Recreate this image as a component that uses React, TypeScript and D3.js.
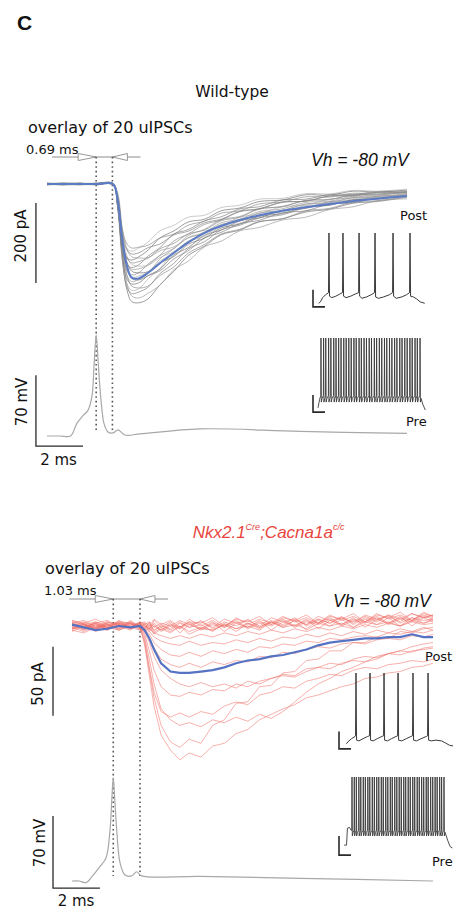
import React from "react";
import * as d3 from "d3";

type Pt = [number, number];

// ================= Wild-type panel (top) =================
const wtTime = [0, 0.7, 1.4, 2.1, 2.8, 3.0, 3.2, 3.4, 3.6, 3.9, 4.3, 4.8, 5.4, 6.0, 6.7, 7.4, 8.2, 9.0, 10.0, 11.0, 12.0, 13.0, 14.0, 15.3];
const wtTraces: number[][] = [
  [2, -1, 1, -2, 0, -50, -185, -265, -294, -297, -287, -252, -218, -179, -155, -127, -115, -95, -87, -70, -63, -48, -44, -33],
  [-1, 2, 0, 1, -2, -40, -170, -250, -280, -285, -273, -253, -214, -193, -157, -143, -117, -109, -90, -83, -64, -57, -42, -37],
  [0, -2, 2, -1, 1, -60, -190, -258, -274, -270, -258, -224, -198, -162, -144, -115, -103, -85, -77, -59, -53, -40, -37, -27],
  [1, 1, -2, 2, -1, -45, -180, -250, -266, -262, -237, -211, -169, -148, -118, -105, -83, -75, -57, -53, -38, -35, -25, -23],
  [-2, 0, 1, -1, 2, -35, -150, -228, -255, -260, -255, -229, -207, -173, -151, -125, -113, -94, -87, -67, -61, -45, -42, -31],
  [2, -2, 0, 1, 0, -55, -175, -238, -250, -247, -229, -213, -177, -159, -128, -115, -92, -85, -66, -61, -44, -42, -31, -28],
  [0, 1, -1, -2, 1, -48, -168, -230, -244, -238, -223, -187, -161, -129, -113, -89, -81, -62, -57, -41, -39, -27, -27, -19],
  [-1, -1, 2, 0, -1, -30, -140, -212, -236, -240, -229, -217, -187, -167, -135, -121, -99, -91, -72, -67, -50, -47, -35, -31],
  [1, -2, -1, 2, 0, -42, -155, -218, -233, -230, -220, -193, -171, -143, -128, -103, -93, -73, -66, -50, -47, -34, -33, -25],
  [-2, 2, 1, 0, -1, -52, -165, -216, -227, -222, -200, -178, -142, -125, -101, -90, -69, -63, -46, -43, -30, -29, -21, -20],
  [0, 0, -2, 1, 2, -28, -128, -195, -218, -222, -219, -197, -181, -151, -135, -110, -100, -81, -74, -57, -53, -39, -38, -29],
  [2, 1, 0, -1, -2, -38, -142, -198, -213, -212, -203, -179, -161, -134, -121, -97, -88, -69, -62, -46, -43, -31, -31, -24],
  [-1, 0, 2, -2, 1, -50, -160, -202, -209, -202, -180, -159, -125, -114, -92, -82, -62, -57, -40, -38, -26, -26, -19, -18],
  [1, -1, -2, 0, 2, -25, -118, -180, -201, -205, -203, -184, -169, -144, -131, -107, -98, -78, -70, -54, -51, -37, -36, -28],
  [0, 2, 1, -1, -1, -40, -140, -186, -197, -194, -185, -162, -148, -125, -115, -92, -83, -63, -56, -41, -39, -27, -28, -21],
  [-2, -1, 0, 2, 1, -55, -150, -185, -190, -182, -165, -135, -117, -95, -88, -67, -60, -44, -40, -27, -28, -18, -20, -15],
  [2, 0, -1, 1, -2, -22, -110, -163, -182, -185, -184, -167, -157, -135, -123, -101, -92, -73, -66, -50, -47, -34, -34, -27],
  [-1, 1, 2, -1, 0, -35, -125, -165, -175, -172, -159, -150, -127, -118, -97, -88, -68, -62, -45, -43, -30, -30, -22, -22],
  [0, -2, 1, 2, -1, -48, -135, -162, -168, -160, -145, -117, -103, -83, -78, -59, -53, -38, -36, -24, -25, -16, -18, -13],
  [1, 2, -1, 0, 1, -30, -115, -150, -160, -158, -153, -135, -125, -103, -93, -73, -67, -50, -45, -32, -33, -23, -25, -19],
];
const wtMean = [0, 0, 0, 0, 0, -40, -140, -205, -234, -236, -222, -198, -172, -146, -122, -105, -90, -79, -67, -58, -50, -43, -37, -30];
const wtApTime = [0, 0.55, 1.0, 1.27, 1.53, 1.74, 1.91, 2.0, 2.09, 2.17, 2.25, 2.34, 2.42, 2.59, 2.8, 3.02, 3.31, 3.95, 6.5, 10.75, 15.3];
const wtApVm = [-65, -65, -65, -52.5, -45, -39.7, -26, 5, 34.6, 10, -17.7, -40, -52.5, -61, -62, -59, -64, -63, -58, -60.5, -62.5];
const wtMarkers = [2.09, 2.78];
const wtPostTrace: Pt[] = [
  [50, -69], [65, -67], [85, -61], [110, -57], [136, -54], [140, 30], [145, -59], [165, -61], [200, -59], [235, -56],
  [259, -54], [263, 30], [268, -59], [290, -61], [330, -59], [370, -56], [400, -54], [404, 30], [409, -59], [430, -62],
  [470, -60], [510, -57], [540, -54], [544, 30], [549, -60], [575, -62], [620, -60], [670, -57], [698, -54], [702, 30],
  [707, -59], [730, -62], [780, -60], [820, -57], [847, -54], [851, 30], [856, -59], [880, -60], [910, -63], [940, -67], [980, -69],
];
const wtPreSpikes = [70, 93, 112, 137, 157, 182, 202, 225, 246, 270, 291, 314, 335, 359, 379, 404, 424, 448, 469, 493,
  513, 538, 558, 582, 603, 627, 647, 671, 692, 716, 736, 761, 781, 805, 826, 850, 870, 895, 915, 939];
const wtPreStart: Pt[] = [[44, -67], [52, -60], [62, -53]];
const wtPreEnd: Pt[] = [[950, -55], [963, -62], [985, -70]];
const wtPreLevels = [-50, 30, -59, -54]; // pre-spike, peak, trough, recovery (mV)

// ================= Nkx2.1Cre;Cacna1a c/c panel (bottom) =================
const koTime = [0, 0.5, 1.0, 1.5, 2.0, 2.5, 2.9, 3.1, 3.3, 3.5, 3.8, 4.2, 4.6, 5.0, 5.5, 6.0, 6.5, 7.0, 7.5, 8.0, 8.5, 9.0,
  9.5, 10.0, 10.5, 11.0, 11.5, 12.0, 12.5, 13.0, 13.5, 14.0, 14.5, 15.0, 15.4];
const koTraces: number[][] = [
  [2, -3, 1, -2, 3, -1, 0, -14, -36, -58, -79, -90, -97, -92, -95, -87, -85, -78, -75, -68, -64, -60, -57, -52, -50, -47, -44, -42, -38, -37, -34, -33, -30, -29, -27],
  [0, 2, -2, 1, -3, 2, -1, -12, -32, -52, -72, -84, -88, -82, -85, -72, -68, -56, -55, -44, -43, -34, -33, -25, -24, -18, -18, -12, -12, -8, -9, -4, -5, -2, -1],
  [-3, 1, -2, 3, 0, -2, 1, -8, -24, -42, -60, -68, -72, -70, -73, -68, -70, -66, -69, -64, -67, -62, -55, -48, -42, -38, -33, -30, -26, -24, -20, -18, -15, -13, -12],
  [3, -1, 2, -3, 1, 3, -1, -10, -30, -48, -62, -66, -63, -66, -62, -64, -58, -55, -57, -50, -48, -44, -45, -40, -38, -35, -36, -32, -30, -31, -28, -27, -25, -26, -24],
  [-1, -4, 0, -2, 2, -1, 2, -6, -18, -32, -44, -50, -51, -48, -50, -46, -47, -42, -44, -40, -38, -35, -36, -31, -30, -27, -28, -24, -22, -23, -20, -18, -19, -16, -15],
  [4, 1, 3, 0, 2, -1, 3, -4, -12, -22, -32, -38, -42, -44, -41, -44, -42, -45, -40, -42, -38, -36, -37, -33, -30, -31, -27, -25, -26, -22, -20, -21, -18, -17, -16],
  [-2, 2, -3, 1, -1, 2, -2, -3, -9, -16, -24, -28, -30, -27, -30, -26, -28, -25, -26, -22, -23, -19, -20, -17, -15, -16, -13, -12, -13, -10, -9, -10, -7, -8, -6],
  [1, -2, 3, -1, 0, -3, 2, -2, -6, -12, -17, -21, -22, -19, -22, -18, -20, -17, -19, -15, -16, -13, -14, -11, -12, -9, -10, -8, -7, -8, -5, -6, -4, -5, -3],
  [-4, 0, -2, 2, -3, 1, 0, -1, -4, -8, -11, -13, -14, -11, -14, -12, -13, -10, -12, -9, -11, -8, -9, -6, -8, -5, -7, -4, -6, -3, -5, -2, -4, -1, -3],
  [2, 4, 0, 3, 1, -2, 1, 0, -2, -5, -7, -9, -7, -9, -6, -8, -5, -7, -4, -6, -3, -5, -2, -4, -1, -3, 0, -2, 1, -1, 2, 0, 3, 1, 2],
  [0, -3, 2, -1, 3, 0, -2, 2, -3, 4, -1, 3, -2, 5, 0, 4, -1, 6, 1, 5, 2, 7, 3, 6, 2, 8, 4, 7, 3, 9, 5, 8, 4, 10, 7],
  [3, 1, -1, 2, -2, 3, 0, -2, 3, -4, 1, -3, 2, -1, 4, -2, 3, 0, 5, -1, 4, 1, 6, 0, 5, 2, 7, 1, 6, 3, 8, 2, 6, 4, 5],
  [-2, 1, -4, -1, -3, 0, 1, 1, -4, 0, -3, 2, -5, 1, -2, 3, -4, 2, -1, 4, -3, 3, 0, 5, -2, 4, 1, 6, -1, 5, 2, 7, 0, 6, 3],
  [1, -1, 2, 4, 0, 2, -3, -3, 1, -5, -1, -4, 0, -6, -2, -3, 1, -4, 2, -2, 3, -1, 4, -3, 2, 0, 5, -1, 3, 1, 6, 0, 4, 2, 5],
  [-3, -5, -1, -3, 1, -2, 2, 3, 0, 5, 1, 4, -1, 3, 2, 6, 0, 5, 3, 7, 1, 6, 4, 8, 2, 7, 5, 9, 3, 8, 6, 10, 4, 9, 7],
  [4, 2, 5, 1, 3, 2, 0, 0, -2, 2, -3, 1, -1, 3, -2, 2, 0, 4, -1, 3, 1, 5, 0, 4, 2, 6, 1, 5, 3, 7, 2, 6, 4, 8, 6],
  [-1, 1, -2, 0, 2, -1, -3, -1, 2, -3, 0, -2, 3, -1, 1, -4, 2, -2, 0, -3, 3, -1, 1, -2, 4, 0, 2, -1, 5, 1, 3, 0, 6, 2, 4],
  [2, -2, 1, -1, 4, 1, 2, 2, -1, 1, -4, 0, -2, 2, -3, 1, -1, 3, -2, 2, 0, 4, -1, 3, 1, 5, 0, 4, 2, 6, 1, 5, 3, 7, 5],
  [0, 3, -1, 1, -2, 4, -1, -4, -1, -6, -2, -5, 0, -4, -1, -3, 1, -2, 2, -1, 3, 0, 4, 1, 5, 2, 6, 3, 7, 4, 8, 5, 9, 6, 8],
  [-2, 0, 2, -2, 1, -1, 3, 1, 3, -1, 2, 0, 4, 1, 3, -1, 5, 2, 4, 0, 6, 3, 5, 1, 7, 4, 6, 2, 8, 5, 7, 3, 9, 6, 8],
];
const koMean = [1, -1, -3, -2, 0, -1, 0, -3, -9, -17, -27, -33, -34, -34, -33, -32, -30, -27, -25, -24, -22, -21, -19, -17, -14, -12, -11, -10, -9, -9, -8, -8, -6, -8, -8];
const koApTime = [0, 0.3, 0.6, 0.85, 1.19, 1.45, 1.62, 1.7, 1.76, 1.83, 1.91, 2.05, 2.26, 2.55, 2.76, 2.97, 5.46, 9.73, 15.4];
const koApVm = [-65, -65, -66.6, -60.8, -51, -42.7, -16, 15, 35.3, 12, -16, -47.5, -59.2, -60, -56, -60, -60.5, -62.4, -65];
const koMarkers = [1.76, 2.9];
const koPostTrace: Pt[] = [
  [65, -67], [80, -64], [110, -60], [140, -57], [145, -56], [149, 30], [154, -62], [175, -63], [210, -60], [250, -57],
  [268, -56], [272, 30], [277, -62], [300, -63], [335, -60], [375, -57], [391, -56], [395, 30], [400, -62], [425, -63],
  [460, -60], [500, -57], [514, -56], [518, 30], [523, -62], [550, -63], [590, -60], [630, -57], [645, -56], [649, 30],
  [654, -62], [680, -63], [720, -60], [765, -57], [777, -56], [781, 30], [786, -62], [810, -63], [850, -62], [900, -63],
  [935, -66], [970, -69], [1000, -70],
];
const koPreSpikes = [114, 134, 152, 174, 191, 213, 231, 253, 270, 292, 310, 331, 349, 371, 388, 410, 428, 450, 467, 489,
  507, 528, 546, 568, 585, 607, 625, 647, 664, 686, 704, 725, 743, 765, 782, 804, 822, 843, 861, 883, 900, 921];
const koPreStart: Pt[] = [[45, -66], [66, -66], [74, -42], [92, -41], [106, -45]];
const koPreEnd: Pt[] = [[935, -50], [955, -60], [975, -68], [995, -70]];
const koPreLevels = [-45, 30, -53, -48];

// scale-bar values
const currentBarA = 200; // pA
const currentBarB = 50; // pA
const voltBar = 70; // mV
const timeBar = 2; // ms

const zip = (t: number[], v: number[]): Pt[] => t.map((tt, i) => [tt, v[i]]);

function buildPre(start: Pt[], spikes: number[], end: Pt[], lv: number[]): Pt[] {
  const pts: Pt[] = [...start];
  spikes.forEach((s) => {
    pts.push([s - 2, lv[0]], [s, lv[1]], [s + 3, lv[2]], [s + 10, lv[3]]);
  });
  return pts.concat(end);
}

type Sc = d3.ScaleLinear<number, number>;
const path = (xs: Sc, ys: Sc, pts: Pt[], curve: d3.CurveFactory = d3.curveLinear) =>
  d3.line<Pt>().x((d) => xs(d[0])).y((d) => ys(d[1])).curve(curve)(pts) || "";

const LABEL = "DejaVu Sans, Verdana, sans-serif";
const ARIAL = "Liberation Sans, Arial, sans-serif";

function Markers({ xs, m, yLine, yEnd, label, lx, ly }: { xs: Sc; m: number[]; yLine: number; yEnd: number; label: string; lx: number; ly: number }) {
  const a = xs(m[0]);
  const b = xs(m[1]);
  const h = 3.5;
  return (
    <g>
      <line x1={a - 44} x2={b + 28} y1={yLine} y2={yLine} stroke="#8c8c8c" strokeWidth={1} />
      <path d={`M${a - 18},${yLine - h}L${a},${yLine}L${a - 18},${yLine + h}Z`} fill="#fff" stroke="#8c8c8c" strokeWidth={0.9} />
      <path d={`M${b + 15},${yLine - h}L${b},${yLine}L${b + 15},${yLine + h}Z`} fill="#fff" stroke="#8c8c8c" strokeWidth={0.9} />
      {m.map((v, i) => (
        <line key={i} x1={xs(v)} x2={xs(v)} y1={yLine} y2={yEnd} stroke="#555" strokeWidth={1.6} strokeDasharray="1.6 3" />
      ))}
      <text x={lx} y={ly} fontFamily={LABEL} fontSize={13} fill="#111">{label}</text>
    </g>
  );
}

export default function App() {
  const W = 462;
  const H = 909;

  // top panel scales
  const xA = d3.scaleLinear().domain([0, 15.3]).range([47, 407]);
  const yA = d3.scaleLinear().domain([0, -300]).range([184, 304]);
  const vA = d3.scaleLinear().domain([-65, 35]).range([436, 334.6]);
  const ixA = d3.scaleLinear().domain([0, 1000]).range([313, 427]);
  const ipostA = d3.scaleLinear().domain([-70, 30]).range([304, 233]);
  const ipreA = d3.scaleLinear().domain([-70, 30]).range([410, 338]);

  // bottom panel scales
  const xB = d3.scaleLinear().domain([0, 15.4]).range([72, 433]);
  const yB = d3.scaleLinear().domain([0, -100]).range([626, 764]);
  const vB = d3.scaleLinear().domain([-65, 35]).range([881, 778]);
  const ixB = d3.scaleLinear().domain([0, 1000]).range([339, 453]);
  const ipostB = d3.scaleLinear().domain([-70, 30]).range([746, 673]);
  const ipreB = d3.scaleLinear().domain([-70, 30]).range([848, 777]);

  const grayShades = ["#6f6f6f", "#9a9a9a", "#808080", "#b0b0b0", "#8a8a8a"];
  const bar = "#2a2a2a";

  const Lbar = (xs: Sc, ys: Sc, v0: number, v1: number) => (
    <path d={`M${xs(0)},${ys(v1)}V${ys(v0)}H${xs(105)}`} fill="none" stroke={bar} strokeWidth={1.6} />
  );

  return (
    <svg width={W} height={H} viewBox={`0 0 ${W} ${H}`} style={{ position: "absolute", left: 0, top: 0, background: "#fff" }}>
      <rect x={0} y={0} width={W} height={H} fill="#fff" />
      <text x={17} y={30} fontFamily={ARIAL} fontWeight="bold" fontSize={21} fill="#111">C</text>

      {/* ---------- Wild-type ---------- */}
      <text x={232} y={97} textAnchor="middle" fontFamily={LABEL} fontSize={15.5} fill="#111">Wild-type</text>
      <text x={28} y={132.5} fontFamily={LABEL} fontSize={16} fill="#111">overlay of 20 uIPSCs</text>
      <text x={311} y={165.5} fontFamily={ARIAL} fontStyle="italic" fontSize={17.5} fill="#111">Vh = -80 mV</text>
      <Markers xs={xA} m={wtMarkers} yLine={157} yEnd={433} label="0.69 ms" lx={26} ly={154} />

      {wtTraces.map((tr, i) => (
        <path key={i} d={path(xA, yA, zip(wtTime, tr), d3.curveCatmullRom)} fill="none"
          stroke={grayShades[i % grayShades.length]} strokeWidth={0.8} strokeOpacity={0.85} />
      ))}
      <path d={path(xA, yA, zip(wtTime, wtMean), d3.curveCatmullRom)} fill="none" stroke="#5b7bc6" strokeWidth={2} />

      <path d={path(xA, vA, zip(wtApTime, wtApVm), d3.curveCatmullRom)} fill="none" stroke="#a8a8a8" strokeWidth={1.2} />

      {/* scale bars */}
      <line x1={xA(-0.47)} x2={xA(-0.47)} y1={yA(-47.5)} y2={yA(-47.5 - currentBarA)} stroke={bar} strokeWidth={1.3} />
      <path d={`M${xA(-0.47)},${vA(-75 + voltBar)}V${vA(-75)}H${xA(-0.47 + timeBar)}`} fill="none" stroke={bar} strokeWidth={1.3} />
      <text transform={`translate(26,236) rotate(-90)`} textAnchor="middle" fontFamily={LABEL} fontSize={15} fill="#111">{`${currentBarA} pA`}</text>
      <text transform={`translate(27,402) rotate(-90)`} textAnchor="middle" fontFamily={LABEL} fontSize={15} fill="#111">{`${voltBar} mV`}</text>
      <text x={58.5} y={465} textAnchor="middle" fontFamily={LABEL} fontSize={15} fill="#111">{`${timeBar} ms`}</text>

      {/* insets */}
      <path d={path(ixA, ipostA, wtPostTrace)} fill="none" stroke="#3a3a3a" strokeWidth={1} />
      {Lbar(ixA, ipostA, -74, -50)}
      <path d={path(ixA, ipreA, buildPre(wtPreStart, wtPreSpikes, wtPreEnd, wtPreLevels))} fill="none" stroke="#3a3a3a" strokeWidth={0.9} />
      {Lbar(ixA, ipreA, -73, -49)}
      <text x={400} y={220} fontFamily={LABEL} fontSize={13} fill="#111">Post</text>
      <text x={406} y={425.5} fontFamily={LABEL} fontSize={13} fill="#111">Pre</text>

      {/* ---------- Nkx2.1Cre;Cacna1a c/c ---------- */}
      <text x={192.7} y={538} fontFamily={ARIAL} fontStyle="italic" fontSize={17} fill="#e8453e">
        Nkx2.1<tspan fontSize={9} dy={-8}>Cre</tspan><tspan dy={8}>;Cacna1a</tspan><tspan fontSize={9} dy={-8}>c/c</tspan>
      </text>
      <text x={45} y={574} fontFamily={LABEL} fontSize={16} fill="#111">overlay of 20 uIPSCs</text>
      <text x={333} y={607} fontFamily={ARIAL} fontStyle="italic" fontSize={17.5} fill="#111">Vh = -80 mV</text>
      <Markers xs={xB} m={koMarkers} yLine={599} yEnd={876} label="1.03 ms" lx={44} ly={595} />

      {koTraces.map((tr, i) => (
        <path key={i} d={path(xB, yB, zip(koTime, tr))} fill="none" stroke="#ee6e66" strokeWidth={0.9} strokeOpacity={0.6} />
      ))}
      <path d={path(xB, yB, zip(koTime, koMean))} fill="none" stroke="#5672c2" strokeWidth={2.2} />

      <path d={path(xB, vB, zip(koApTime, koApVm), d3.curveCatmullRom)} fill="none" stroke="#a8a8a8" strokeWidth={1.2} />

      <line x1={xB(-0.81)} x2={xB(-0.81)} y1={yB(-15)} y2={yB(-15 - currentBarB)} stroke={bar} strokeWidth={1.3} />
      <path d={`M${xB(-0.81)},${vB(-72 + voltBar)}V${vB(-72)}H${xB(-0.81 + timeBar)}`} fill="none" stroke={bar} strokeWidth={1.3} />
      <text transform={`translate(43,684) rotate(-90)`} textAnchor="middle" fontFamily={LABEL} fontSize={15} fill="#111">{`${currentBarB} pA`}</text>
      <text transform={`translate(45,843) rotate(-90)`} textAnchor="middle" fontFamily={LABEL} fontSize={15} fill="#111">{`${voltBar} mV`}</text>
      <text x={76} y={906} textAnchor="middle" fontFamily={LABEL} fontSize={15} fill="#111">{`${timeBar} ms`}</text>

      <path d={path(ixB, ipostB, koPostTrace)} fill="none" stroke="#3a3a3a" strokeWidth={1} />
      {Lbar(ixB, ipostB, -74, -50)}
      <path d={path(ixB, ipreB, buildPre(koPreStart, koPreSpikes, koPreEnd, koPreLevels))} fill="none" stroke="#3a3a3a" strokeWidth={0.9} />
      {Lbar(ixB, ipreB, -80, -53)}
      <text x={425} y={661} fontFamily={LABEL} fontSize={13} fill="#111">Post</text>
      <text x={432} y={866} fontFamily={LABEL} fontSize={13} fill="#111">Pre</text>
    </svg>
  );
}
